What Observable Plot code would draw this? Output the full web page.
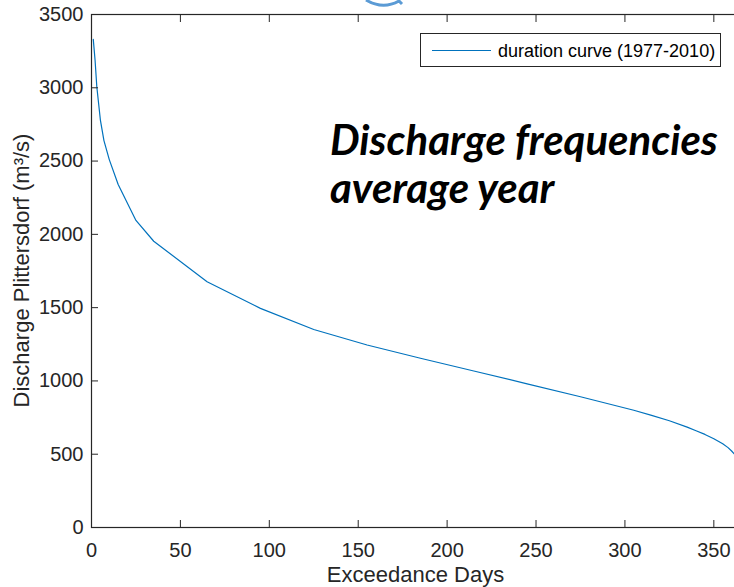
<!DOCTYPE html>
<html>
<head>
<meta charset="utf-8">
<script src="https://cdn.jsdelivr.net/npm/d3@7"></script>
<script src="https://cdn.jsdelivr.net/npm/@observablehq/plot@0.6"></script>
<style>
  html, body { margin: 0; padding: 0; background: #fff; overflow: hidden; }
  #wrap { position: relative; width: 734px; height: 587px; overflow: hidden; }
  #wrap > svg { position: absolute; left: 0; top: 0; }
  #overlay { position: absolute; left: 0; top: 0; pointer-events: none; }
</style>
</head>
<body>
<div id="wrap"></div>
<script>
// ---- data ----
const days      = [1, 2, 3, 5, 7, 10, 15, 25, 35, 65, 95, 125, 155, 185, 215, 245, 275, 305, 315, 325, 335, 340, 345, 350, 355, 358, 360, 362];
const discharge = [3330, 3190, 3005, 2780, 2640, 2510, 2340, 2095, 1953, 1677, 1495, 1351, 1245, 1155, 1068, 980, 892, 800, 765, 728, 685, 660, 635, 606, 572, 545, 522, 495];
const xTicks = [0, 50, 100, 150, 200, 250, 300, 350];
const yTicks = [0, 500, 1000, 1500, 2000, 2500, 3000, 3500];
const seriesName = "duration curve (1977-2010)";
const xLabel = "Exceedance Days";
const yLabel = "Discharge Plittersdorf (m³/s)";
const noteLines = ["Discharge frequencies", "average year"];

const rows = days.map((d, i) => ({day: d, q: discharge[i]}));
const axisColor = "#262626";
const lineColor = "#0072BD";
const fmt = d => String(d);

const chart = Plot.plot({
  width: 741,
  height: 587,
  marginLeft: 91,
  marginRight: 1,
  marginTop: 14,
  marginBottom: 60,
  x: {domain: [0, 365]},
  y: {domain: [0, 3500]},
  style: {fontFamily: "'Liberation Sans', Arial, sans-serif", fontSize: "20px", color: axisColor, background: "#fff"},
  marks: [
    Plot.line(rows, {x: "day", y: "q", stroke: lineColor, strokeWidth: 1.2}),
    Plot.frame({stroke: axisColor, strokeWidth: 1.2}),
    Plot.axisX(xTicks, {anchor: "bottom", tickSize: -7, tickPadding: 22, tickFormat: fmt, label: null, stroke: axisColor, fill: axisColor, fontSize: 20}),
    Plot.axisX(xTicks, {anchor: "top", tickSize: -7, tickFormat: () => "", label: null, stroke: axisColor}),
    Plot.axisY(yTicks, {anchor: "left", tickSize: -7, tickPadding: 15, tickFormat: fmt, label: null, stroke: axisColor, fill: axisColor, fontSize: 20}),
    Plot.axisY(yTicks, {anchor: "right", tickSize: -7, tickFormat: () => "", label: null, stroke: axisColor})
  ]
});
chart.style.maxWidth = "none";
chart.style.width = "741px";
chart.style.height = "587px";
document.getElementById("wrap").appendChild(chart);

// ---- overlay: labels, legend, annotation ----
const NS = "http://www.w3.org/2000/svg";
const ov = document.createElementNS(NS, "svg");
ov.setAttribute("id", "overlay");
ov.setAttribute("width", 734);
ov.setAttribute("height", 587);
document.getElementById("wrap").appendChild(ov);
function el(tag, attrs, text) {
  const e = document.createElementNS(NS, tag);
  for (const k in attrs) e.setAttribute(k, attrs[k]);
  if (text != null) e.textContent = text;
  ov.appendChild(e);
  return e;
}
// partial logo fragment at the top edge
el("path", {d: "M366,0 Q383,10 399,1 L402,4", fill: "none", stroke: "#5b9bd5", "stroke-width": 3});

// axis labels
el("text", {x: 415.5, y: 582, "text-anchor": "middle", "font-family": "'Liberation Sans', Arial, sans-serif", "font-size": 22, fill: axisColor}, xLabel);
el("text", {transform: "translate(29,270.5) rotate(-90)", "text-anchor": "middle", "font-family": "'Liberation Sans', Arial, sans-serif", "font-size": 22, fill: axisColor}, yLabel);

// legend
el("rect", {x: 420.5, y: 33.5, width: 300, height: 33, fill: "#fff", stroke: axisColor, "stroke-width": 1});
el("line", {x1: 432, x2: 491, y1: 50.5, y2: 50.5, stroke: lineColor, "stroke-width": 1.2});
el("text", {x: 498, y: 56.5, "font-family": "'Liberation Sans', Arial, sans-serif", "font-size": 18, fill: "#000"}, seriesName);

// annotation
const t1 = el("text", {x: 330, y: 155, "font-family": "Lato, 'Open Sans', sans-serif", "font-weight": "bold", "font-style": "italic", "font-size": 42, fill: "#000"}, noteLines[0]);
const t2 = el("text", {x: 330, y: 203, "font-family": "Lato, 'Open Sans', sans-serif", "font-weight": "bold", "font-style": "italic", "font-size": 42, fill: "#000"}, noteLines[1]);
const w = t1.getComputedTextLength();
if (w > 0) {
  const fs = 42 * 388 / w;
  t1.setAttribute("font-size", fs);
  t2.setAttribute("font-size", fs);
}
</script>
</body>
</html>
